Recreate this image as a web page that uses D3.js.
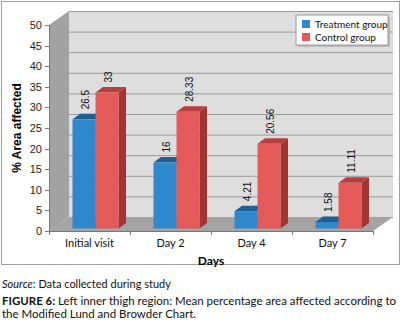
<!DOCTYPE html>
<html lang="en">
<head>
<meta charset="utf-8">
<title>Left inner thigh region</title>
<script src="https://d3js.org/d3.v7.min.js"></script>
<style>
  body { margin: 0; background: #fff; }
  .axis text { font-family: "Liberation Sans", Arial, sans-serif; font-size: 11px; fill: #222; }
  .xaxis text { font-family: Lato, "Open Sans", sans-serif; font-size: 11px; fill: #111; }
  .axis path, .axis line { stroke: #777; shape-rendering: crispEdges; }
</style>
</head>
<body>
<script>
// data
const days = ["Initial visit", "Day 2", "Day 4", "Day 7"];
const series = ["Treatment group", "Control group"];
const treatment = [26.5, 16, 4.21, 1.58];
const control = [33, 28.33, 20.56, 11.11];
const yTicks = [0, 5, 10, 15, 20, 25, 30, 35, 40, 45, 50];

const colors = {
  "Treatment group": { front: "#2f88cc", top: "#1f5f93", side: "#1d5a8c" },
  "Control group": { front: "#e35a58", top: "#b73e3c", side: "#a33432" }
};

const w = 403, h = 323;
const svg = d3.select("body").append("svg").attr("width", w).attr("height", h);

// outer frame
svg.append("rect").attr("x", 1.5).attr("y", 1.5).attr("width", 398).attr("height", 263)
  .attr("fill", "#fff").attr("stroke", "#a0a0a0");

// scales (front plane)
const y = d3.scaleLinear().domain([0, 50]).range([231, 25]);
const x0 = d3.scaleBand().domain(days).range([49, 373]);
const x1 = d3.scaleBand().domain(series).range([0, 46]);

// 3d offsets
const depthX = 20, depthY = -14;   // wall depth
const barShiftX = 6, barShiftY = -2.5; // bar front plane
const bdx = 7.5, bdy = -5.5;       // bar depth

const left = 49, right = 373;

// side wall
svg.append("polygon")
  .attr("points", [[left, y(50)], [left + depthX, y(50) + depthY], [left + depthX, y(0) + depthY], [left, y(0)]].join(" "))
  .attr("fill", "#a2a2a2");
// back wall
svg.append("rect")
  .attr("x", left + depthX).attr("y", y(50) + depthY)
  .attr("width", right - left).attr("height", y(0) - y(50))
  .attr("fill", "#dedede");
// gridlines
svg.append("g").selectAll("line").data(yTicks).join("line")
  .attr("x1", left + depthX).attr("x2", right + depthX)
  .attr("y1", d => y(d) + depthY + 0.5).attr("y2", d => y(d) + depthY + 0.5)
  .attr("stroke", "#9a9a9a").attr("stroke-width", 1);
// floor
svg.append("polygon")
  .attr("points", [[left, y(0)], [left + depthX, y(0) + depthY], [right + depthX, y(0) + depthY], [right, y(0)]].join(" "))
  .attr("fill", "#a4a4a4");

// bars
const rows = [];
days.forEach((d, i) => {
  rows.push({ day: d, s: "Treatment group", v: treatment[i] });
  rows.push({ day: d, s: "Control group", v: control[i] });
});
const bw = x1.bandwidth();
const barX = r => x0(r.day) + x0.bandwidth() / 2 - 23 + barShiftX + x1(r.s);
const barY = v => y(v) + barShiftY;

const bars = svg.append("g").selectAll("g").data(rows).join("g");
bars.append("polygon") // side
  .attr("points", r => {
    const xr = barX(r) + bw, yt = barY(r.v), yb = barY(0);
    return [[xr, yt], [xr + bdx, yt + bdy], [xr + bdx, yb + bdy], [xr, yb]].join(" ");
  })
  .attr("fill", r => colors[r.s].side);
bars.append("polygon") // top
  .attr("points", r => {
    const xl = barX(r), yt = barY(r.v);
    return [[xl, yt], [xl + bdx, yt + bdy], [xl + bw + bdx, yt + bdy], [xl + bw, yt]].join(" ");
  })
  .attr("fill", r => colors[r.s].top);
bars.append("rect") // front
  .attr("x", r => barX(r)).attr("y", r => barY(r.v))
  .attr("width", bw).attr("height", r => barY(0) - barY(r.v))
  .attr("fill", r => colors[r.s].front);

// value labels
bars.append("text")
  .attr("transform", r => "translate(" + (barX(r) + bw / 2 + 1.5) + "," + (barY(r.v) + bdy - 4.5) + ") rotate(-90)")
  .attr("dy", "0.35em")
  .attr("font-family", "Liberation Sans, Arial, sans-serif")
  .attr("font-size", "10px")
  .attr("fill", "#111")
  .text(r => r.v);

// y axis
svg.append("g").attr("class", "axis")
  .attr("transform", "translate(" + left + ",0)")
  .call(d3.axisLeft(y).tickValues(yTicks).tickSize(4).tickPadding(3))
  .call(g => g.select(".domain").attr("stroke", "#999"));

// x axis
const xg = svg.append("g").attr("class", "axis xaxis")
  .attr("transform", "translate(0," + y(0) + ")")
  .call(d3.axisBottom(x0).tickSize(0).tickPadding(8))
  .call(g => g.select(".domain").attr("stroke", "#999"));
xg.selectAll(".bound").data(d3.range(days.length + 1)).join("line")
  .attr("class", "bound")
  .attr("x1", i => left + i * x0.bandwidth()).attr("x2", i => left + i * x0.bandwidth())
  .attr("y1", 0).attr("y2", 4)
  .attr("stroke", "#777");

// axis titles
svg.append("text")
  .attr("transform", "translate(17,128) rotate(-90)")
  .attr("text-anchor", "middle").attr("dy", "0.35em")
  .attr("font-family", "Liberation Sans, Arial, sans-serif")
  .attr("font-size", "12px").attr("font-weight", "bold")
  .text("% Area affected");
svg.append("text")
  .attr("x", (left + right) / 2).attr("y", 261)
  .attr("text-anchor", "middle").attr("dy", "0.35em")
  .attr("font-family", "Lato, sans-serif")
  .attr("font-size", "12px").attr("font-weight", "bold")
  .text("Days");

// legend
const lg = svg.append("g").attr("transform", "translate(296,15)");
lg.append("rect").attr("x", 2).attr("y", 2).attr("width", 92).attr("height", 30).attr("fill", "#bbb");
lg.append("rect").attr("width", 92).attr("height", 30).attr("fill", "#fff").attr("stroke", "#999");
const li = lg.selectAll(".item").data(series).join("g")
  .attr("class", "item")
  .attr("transform", (d, i) => "translate(6," + (5 + i * 13) + ")");
li.append("rect").attr("width", 8).attr("height", 8).attr("fill", d => colors[d].front);
li.append("text").attr("x", 13).attr("y", 4).attr("dy", "0.35em")
  .attr("font-family", "Lato, sans-serif").attr("font-size", "10px").attr("fill", "#111")
  .text(d => d);

// caption
const cap = svg.append("g").attr("font-family", "Lato, sans-serif").attr("fill", "#111");
const src = cap.append("text").attr("x", 2).attr("y", 288).attr("font-size", "11px");
src.append("tspan").attr("font-style", "italic").text("Source");
src.append("tspan").text(": Data collected during study");
const f1 = cap.append("text").attr("x", 2).attr("y", 305).attr("font-size", "11.3px")
  .attr("textLength", 394).attr("lengthAdjust", "spacingAndGlyphs");
f1.append("tspan").attr("font-weight", "bold").text("FIGURE 6:");
f1.append("tspan").text(" Left inner thigh region: Mean percentage area affected according to");
cap.append("text").attr("x", 2).attr("y", 318).attr("font-size", "11.5px")
  .text("the Modified Lund and Browder Chart.");
</script>
</body>
</html>
